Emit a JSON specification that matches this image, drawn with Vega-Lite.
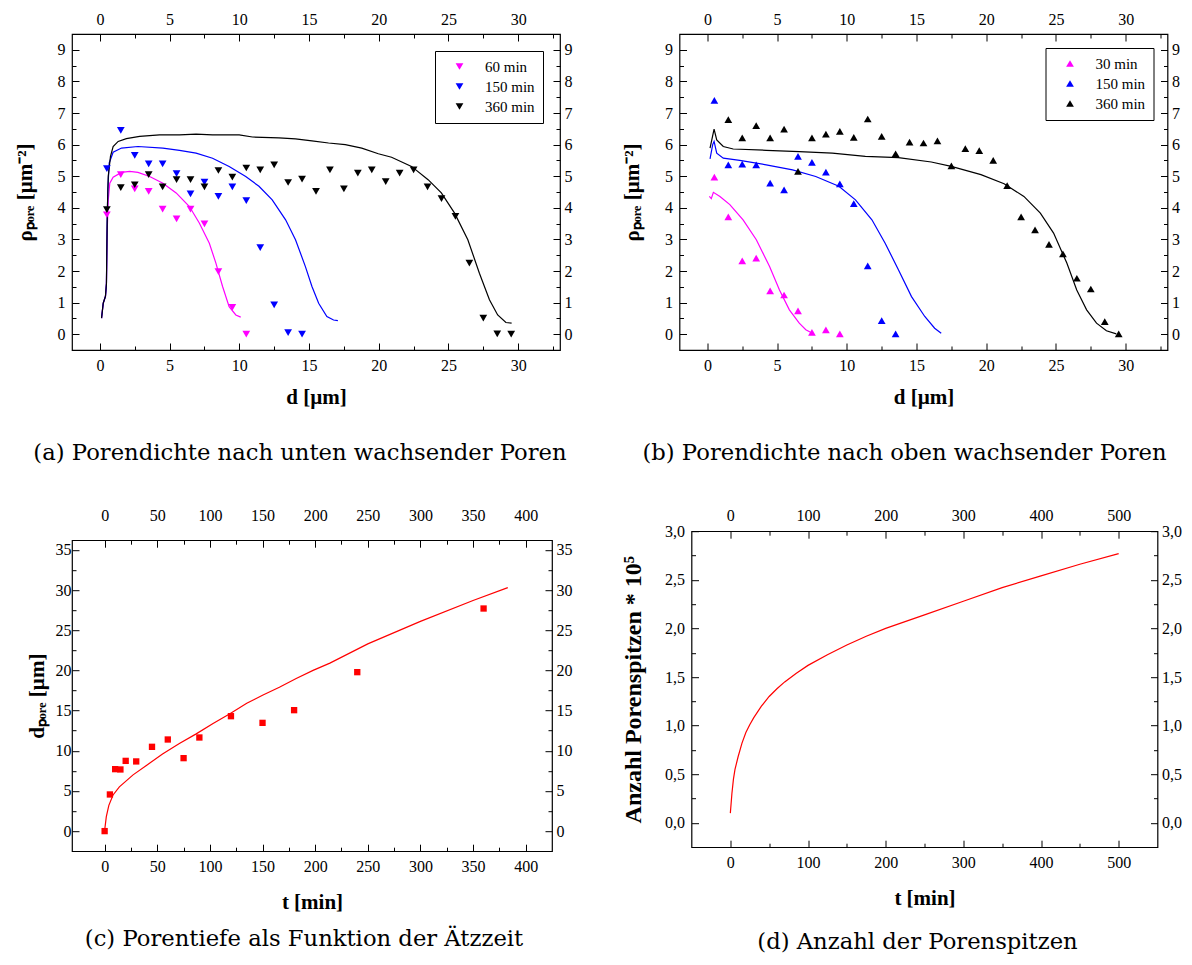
{
  "$schema": "https://vega.github.io/schema/vega-lite/v6.json",
  "background": "white",
  "padding": {"left": 13, "top": 7, "right": 5, "bottom": 5},
  "config": {
    "view": {"stroke": "black", "strokeWidth": 1.2},
    "axis": {"domain": false, "grid": false, "tickColor": "black", "tickWidth": 1, "labelColor": "black", "labelFont": "Liberation Serif", "labelFontSize": 16, "labelFlush": false, "labelOverlap": false, "labelBound": false, "titleFont": "Liberation Serif", "titleFontSize": 21, "titleFontWeight": "bold", "titleColor": "black"}
  },
  "datasets": {
    "a_lines": [
      {"s":"60 min","d":0.12,"r":0.51},{"s":"60 min","d":0.24,"r":0.98},{"s":"60 min","d":0.4,"r":1.2},{"s":"60 min","d":0.47,"r":1.6},{"s":"60 min","d":0.52,"r":3.2},{"s":"60 min","d":0.6,"r":4.25},{"s":"60 min","d":0.71,"r":4.78},{"s":"60 min","d":0.95,"r":4.97},{"s":"60 min","d":1.55,"r":5.12},{"s":"60 min","d":2.14,"r":5.15},{"s":"60 min","d":2.73,"r":5.12},{"s":"60 min","d":3.57,"r":4.99},{"s":"60 min","d":4.52,"r":4.78},{"s":"60 min","d":5.47,"r":4.47},{"s":"60 min","d":6.42,"r":4.04},{"s":"60 min","d":7.13,"r":3.52},{"s":"60 min","d":7.85,"r":2.88},{"s":"60 min","d":8.32,"r":2.25},{"s":"60 min","d":8.8,"r":1.51},{"s":"60 min","d":9.27,"r":0.87},{"s":"60 min","d":9.75,"r":0.61},{"s":"60 min","d":10.1,"r":0.54},
      {"s":"150 min","d":0.12,"r":0.51},{"s":"150 min","d":0.24,"r":0.98},{"s":"150 min","d":0.4,"r":1.2},{"s":"150 min","d":0.47,"r":1.6},{"s":"150 min","d":0.52,"r":3.5},{"s":"150 min","d":0.57,"r":4.6},{"s":"150 min","d":0.67,"r":5.42},{"s":"150 min","d":0.95,"r":5.76},{"s":"150 min","d":1.55,"r":5.89},{"s":"150 min","d":2.73,"r":5.94},{"s":"150 min","d":4.52,"r":5.89},{"s":"150 min","d":5.71,"r":5.82},{"s":"150 min","d":6.9,"r":5.73},{"s":"150 min","d":8.08,"r":5.57},{"s":"150 min","d":9.27,"r":5.31},{"s":"150 min","d":10.46,"r":4.99},{"s":"150 min","d":11.41,"r":4.68},{"s":"150 min","d":12.36,"r":4.25},{"s":"150 min","d":13.32,"r":3.62},{"s":"150 min","d":14.03,"r":2.99},{"s":"150 min","d":14.74,"r":2.14},{"s":"150 min","d":15.21,"r":1.51},{"s":"150 min","d":15.69,"r":0.98},{"s":"150 min","d":16.28,"r":0.56},{"s":"150 min","d":16.76,"r":0.45},{"s":"150 min","d":17.07,"r":0.43},
      {"s":"360 min","d":0.12,"r":0.51},{"s":"360 min","d":0.24,"r":0.98},{"s":"360 min","d":0.4,"r":1.2},{"s":"360 min","d":0.47,"r":1.6},{"s":"360 min","d":0.53,"r":3.8},{"s":"360 min","d":0.6,"r":5.0},{"s":"360 min","d":0.76,"r":5.63},{"s":"360 min","d":0.95,"r":5.94},{"s":"360 min","d":1.31,"r":6.1},{"s":"360 min","d":1.9,"r":6.19},{"s":"360 min","d":2.85,"r":6.26},{"s":"360 min","d":4.28,"r":6.31},{"s":"360 min","d":5.71,"r":6.31},{"s":"360 min","d":6.9,"r":6.33},{"s":"360 min","d":8.08,"r":6.31},{"s":"360 min","d":9.99,"r":6.31},{"s":"360 min","d":10.94,"r":6.24},{"s":"360 min","d":12.84,"r":6.21},{"s":"360 min","d":14.03,"r":6.18},{"s":"360 min","d":15.21,"r":6.12},{"s":"360 min","d":16.4,"r":6.05},{"s":"360 min","d":17.6,"r":6.0},{"s":"360 min","d":18.78,"r":5.89},{"s":"360 min","d":19.97,"r":5.71},{"s":"360 min","d":20.92,"r":5.6},{"s":"360 min","d":22.35,"r":5.31},{"s":"360 min","d":23.54,"r":4.89},{"s":"360 min","d":24.49,"r":4.47},{"s":"360 min","d":25.44,"r":3.83},{"s":"360 min","d":26.39,"r":2.99},{"s":"360 min","d":27.22,"r":1.93},{"s":"360 min","d":27.94,"r":1.09},{"s":"360 min","d":28.53,"r":0.61},{"s":"360 min","d":29.12,"r":0.37},{"s":"360 min","d":29.53,"r":0.35}
    ],
    "a_pts": [
      {"s":"60 min","d":0.5,"r":3.78},{"s":"60 min","d":1.5,"r":5.05},{"s":"60 min","d":2.5,"r":4.6},{"s":"60 min","d":3.5,"r":4.52},{"s":"60 min","d":4.5,"r":3.96},{"s":"60 min","d":5.5,"r":3.65},{"s":"60 min","d":6.5,"r":3.96},{"s":"60 min","d":7.5,"r":3.49},{"s":"60 min","d":8.5,"r":1.98},{"s":"60 min","d":9.5,"r":0.85},{"s":"60 min","d":10.5,"r":0.0},
      {"s":"150 min","d":0.5,"r":5.24},{"s":"150 min","d":1.5,"r":6.45},{"s":"150 min","d":2.5,"r":5.66},{"s":"150 min","d":3.5,"r":5.39},{"s":"150 min","d":4.5,"r":5.39},{"s":"150 min","d":5.5,"r":5.08},{"s":"150 min","d":6.5,"r":4.44},{"s":"150 min","d":7.5,"r":4.81},{"s":"150 min","d":8.5,"r":4.36},{"s":"150 min","d":9.5,"r":4.66},{"s":"150 min","d":10.5,"r":4.23},{"s":"150 min","d":11.5,"r":2.74},{"s":"150 min","d":12.5,"r":0.93},{"s":"150 min","d":13.5,"r":0.05},{"s":"150 min","d":14.5,"r":0.0},
      {"s":"360 min","d":0.5,"r":3.94},{"s":"360 min","d":1.5,"r":4.64},{"s":"360 min","d":2.5,"r":4.73},{"s":"360 min","d":3.5,"r":5.05},{"s":"360 min","d":4.5,"r":4.66},{"s":"360 min","d":5.5,"r":4.89},{"s":"360 min","d":6.5,"r":4.89},{"s":"360 min","d":7.5,"r":4.66},{"s":"360 min","d":8.5,"r":5.18},{"s":"360 min","d":9.5,"r":4.97},{"s":"360 min","d":10.5,"r":5.26},{"s":"360 min","d":11.5,"r":5.2},{"s":"360 min","d":12.5,"r":5.36},{"s":"360 min","d":13.5,"r":4.8},{"s":"360 min","d":14.5,"r":4.91},{"s":"360 min","d":15.5,"r":4.52},{"s":"360 min","d":16.5,"r":5.2},{"s":"360 min","d":17.5,"r":4.6},{"s":"360 min","d":18.5,"r":5.1},{"s":"360 min","d":19.5,"r":5.2},{"s":"360 min","d":20.5,"r":4.83},{"s":"360 min","d":21.5,"r":5.1},{"s":"360 min","d":22.5,"r":5.2},{"s":"360 min","d":23.5,"r":4.66},{"s":"360 min","d":24.5,"r":4.29},{"s":"360 min","d":25.5,"r":3.73},{"s":"360 min","d":26.5,"r":2.25},{"s":"360 min","d":27.5,"r":0.51},{"s":"360 min","d":28.5,"r":0.01},{"s":"360 min","d":29.5,"r":0.0}
    ],
    "b_lines": [
      {"s":"30 min","d":0.14,"r":4.36},{"s":"30 min","d":0.28,"r":4.29},{"s":"30 min","d":0.43,"r":4.49},{"s":"30 min","d":0.9,"r":4.36},{"s":"30 min","d":1.61,"r":4.1},{"s":"30 min","d":2.56,"r":3.62},{"s":"30 min","d":3.51,"r":2.99},{"s":"30 min","d":4.46,"r":2.14},{"s":"30 min","d":5.17,"r":1.4},{"s":"30 min","d":5.88,"r":0.77},{"s":"30 min","d":6.59,"r":0.35},{"s":"30 min","d":7.06,"r":0.14},{"s":"30 min","d":7.53,"r":0.03},
      {"s":"150 min","d":0.19,"r":5.55},{"s":"150 min","d":0.38,"r":6.0},{"s":"150 min","d":0.48,"r":6.1},{"s":"150 min","d":0.67,"r":5.73},{"s":"150 min","d":1.14,"r":5.57},{"s":"150 min","d":2.32,"r":5.5},{"s":"150 min","d":4.22,"r":5.36},{"s":"150 min","d":6.11,"r":5.2},{"s":"150 min","d":7.77,"r":4.99},{"s":"150 min","d":9.43,"r":4.68},{"s":"150 min","d":10.62,"r":4.25},{"s":"150 min","d":11.8,"r":3.62},{"s":"150 min","d":12.75,"r":2.88},{"s":"150 min","d":13.7,"r":2.04},{"s":"150 min","d":14.64,"r":1.19},{"s":"150 min","d":15.59,"r":0.56},{"s":"150 min","d":16.3,"r":0.19},{"s":"150 min","d":16.77,"r":0.03},
      {"s":"360 min","d":0.19,"r":5.89},{"s":"360 min","d":0.48,"r":6.49},{"s":"360 min","d":0.67,"r":6.15},{"s":"360 min","d":1.14,"r":5.94},{"s":"360 min","d":1.85,"r":5.86},{"s":"360 min","d":4.22,"r":5.82},{"s":"360 min","d":6.59,"r":5.78},{"s":"360 min","d":8.96,"r":5.73},{"s":"360 min","d":11.33,"r":5.63},{"s":"360 min","d":13.7,"r":5.59},{"s":"360 min","d":16.06,"r":5.45},{"s":"360 min","d":17.49,"r":5.31},{"s":"360 min","d":19.62,"r":5.05},{"s":"360 min","d":21.28,"r":4.76},{"s":"360 min","d":22.7,"r":4.36},{"s":"360 min","d":23.88,"r":3.83},{"s":"360 min","d":24.83,"r":3.2},{"s":"360 min","d":25.78,"r":2.25},{"s":"360 min","d":26.49,"r":1.4},{"s":"360 min","d":27.2,"r":0.77},{"s":"360 min","d":27.91,"r":0.35},{"s":"360 min","d":28.62,"r":0.11},{"s":"360 min","d":29.33,"r":0.01}
    ],
    "b_pts": [
      {"s":"30 min","d":0.5,"r":4.97},{"s":"30 min","d":1.5,"r":3.71},{"s":"30 min","d":2.5,"r":2.32},{"s":"30 min","d":3.5,"r":2.41},{"s":"30 min","d":4.5,"r":1.37},{"s":"30 min","d":5.5,"r":1.24},{"s":"30 min","d":6.5,"r":0.74},{"s":"30 min","d":7.5,"r":0.06},{"s":"30 min","d":8.5,"r":0.14},{"s":"30 min","d":9.5,"r":0.01},
      {"s":"150 min","d":0.5,"r":7.4},{"s":"150 min","d":1.5,"r":5.36},{"s":"150 min","d":2.5,"r":5.38},{"s":"150 min","d":3.5,"r":5.36},{"s":"150 min","d":4.5,"r":4.78},{"s":"150 min","d":5.5,"r":4.57},{"s":"150 min","d":6.5,"r":5.63},{"s":"150 min","d":7.5,"r":5.44},{"s":"150 min","d":8.5,"r":5.13},{"s":"150 min","d":9.5,"r":4.76},{"s":"150 min","d":10.5,"r":4.13},{"s":"150 min","d":11.5,"r":2.16},{"s":"150 min","d":12.5,"r":0.43},{"s":"150 min","d":13.5,"r":0.01},
      {"s":"360 min","d":1.5,"r":6.79},{"s":"360 min","d":2.5,"r":6.21},{"s":"360 min","d":3.5,"r":6.6},{"s":"360 min","d":4.5,"r":6.21},{"s":"360 min","d":5.5,"r":6.49},{"s":"360 min","d":6.5,"r":5.15},{"s":"360 min","d":7.5,"r":6.21},{"s":"360 min","d":8.5,"r":6.33},{"s":"360 min","d":9.5,"r":6.42},{"s":"360 min","d":10.5,"r":6.23},{"s":"360 min","d":11.5,"r":6.81},{"s":"360 min","d":12.5,"r":6.26},{"s":"360 min","d":13.5,"r":5.71},{"s":"360 min","d":14.5,"r":6.08},{"s":"360 min","d":15.5,"r":6.05},{"s":"360 min","d":16.5,"r":6.12},{"s":"360 min","d":17.5,"r":5.33},{"s":"360 min","d":18.5,"r":5.87},{"s":"360 min","d":19.5,"r":5.81},{"s":"360 min","d":20.5,"r":5.5},{"s":"360 min","d":21.5,"r":4.7},{"s":"360 min","d":22.5,"r":3.71},{"s":"360 min","d":23.5,"r":3.3},{"s":"360 min","d":24.5,"r":2.84},{"s":"360 min","d":25.5,"r":2.54},{"s":"360 min","d":26.5,"r":1.77},{"s":"360 min","d":27.5,"r":1.43},{"s":"360 min","d":28.5,"r":0.4},{"s":"360 min","d":29.5,"r":0.01}
    ],
    "c_line": [
      {"t":0,"d":0.1},{"t":1.6,"d":1.8},{"t":4,"d":3.2},{"t":8,"d":4.5},{"t":14,"d":5.5},{"t":27,"d":7.0},{"t":40,"d":8.2},{"t":55,"d":9.6},{"t":71,"d":10.9},{"t":87,"d":12.1},{"t":103,"d":13.4},{"t":119,"d":14.6},{"t":135,"d":15.9},{"t":150,"d":16.9},{"t":166,"d":17.9},{"t":182,"d":19.0},{"t":198,"d":20.0},{"t":214,"d":20.9},{"t":250,"d":23.3},{"t":300,"d":26.1},{"t":350,"d":28.7},{"t":383,"d":30.3}
    ],
    "c_pts": [
      {"t":0,"d":0},{"t":5,"d":4.56},{"t":10,"d":7.71},{"t":15,"d":7.67},{"t":20,"d":8.74},{"t":30,"d":8.67},{"t":45,"d":10.49},{"t":60,"d":11.4},{"t":75,"d":9.08},{"t":90,"d":11.65},{"t":120,"d":14.3},{"t":150,"d":13.47},{"t":180,"d":15.05},{"t":240,"d":19.78},{"t":360,"d":27.7}
    ],
    "d_line": [
      {"t":0,"n":0.1},{"t":1,"n":0.2},{"t":2,"n":0.3},{"t":4,"n":0.45},{"t":6,"n":0.55},{"t":10,"n":0.68},{"t":15,"n":0.82},{"t":20,"n":0.93},{"t":25,"n":1.01},{"t":30,"n":1.08},{"t":40,"n":1.2},{"t":50,"n":1.3},{"t":60,"n":1.38},{"t":70,"n":1.45},{"t":85,"n":1.54},{"t":100,"n":1.62},{"t":125,"n":1.73},{"t":150,"n":1.83},{"t":175,"n":1.92},{"t":200,"n":2.0},{"t":250,"n":2.14},{"t":300,"n":2.28},{"t":350,"n":2.42},{"t":400,"n":2.54},{"t":450,"n":2.66},{"t":500,"n":2.77}
    ]
  },
  "concat": [
    {
      "width": 488, "height": 316,
      "title": {"text": "(a) Porendichte nach unten wachsender Poren", "orient": "bottom", "frame": "group", "anchor": "middle", "offset": 35, "dx": -16, "baseline": "top", "font": "DejaVu Serif", "fontSize": 22.7, "fontWeight": "normal", "color": "black"},
      "layer": [
        {
          "data": {"name": "a_lines"},
          "mark": {"type": "line", "strokeWidth": 1.2},
          "encoding": {
            "x": {"field": "d", "type": "quantitative", "scale": {"domain": [-2, 33], "nice": false, "zero": false},
              "axis": {"orient": "bottom", "values": [0,2.5,5,7.5,10,12.5,15,17.5,20,22.5,25,27.5,30,32.5], "labelExpr": "datum.value % 5 === 0 ? format(datum.value, 'd') : ''", "tickSize": {"condition": {"test": "datum.value % 5 === 0", "value": -7}, "value": -4}, "labelPadding": 14, "title": "d  [µm]", "titlePadding": 10}},
            "y": {"field": "r", "type": "quantitative", "scale": {"domain": [-0.5, 9.5], "nice": false, "zero": false},
              "axis": {"orient": "left", "values": [0,0.5,1,1.5,2,2.5,3,3.5,4,4.5,5,5.5,6,6.5,7,7.5,8,8.5,9], "labelExpr": "datum.value % 1 === 0 ? format(datum.value, 'd') : ''", "tickSize": {"condition": {"test": "datum.value % 1 === 0", "value": -7}, "value": -4}, "labelPadding": 14, "title": "ρₚₒᵣₑ  [µm⁻²]", "titlePadding": 22}},
            "stroke": {"field": "s", "type": "nominal", "scale": {"domain": ["360 min", "150 min", "60 min"], "range": ["#000000", "#0000ff", "#ff00ff"]}, "legend": null}
          }
        },
        {
          "data": {"name": "a_pts"},
          "mark": {"type": "point", "shape": "triangle-down", "filled": true, "size": 60, "opacity": 1},
          "encoding": {
            "x": {"field": "d", "type": "quantitative", "scale": {"domain": [-2, 33], "nice": false, "zero": false},
              "axis": {"orient": "top", "values": [0,2.5,5,7.5,10,12.5,15,17.5,20,22.5,25,27.5,30,32.5], "labelExpr": "datum.value % 5 === 0 ? format(datum.value, 'd') : ''", "tickSize": {"condition": {"test": "datum.value % 5 === 0", "value": -7}, "value": -4}, "labelPadding": 14, "title": null}},
            "y": {"field": "r", "type": "quantitative", "scale": {"domain": [-0.5, 9.5], "nice": false, "zero": false},
              "axis": {"orient": "right", "values": [0,0.5,1,1.5,2,2.5,3,3.5,4,4.5,5,5.5,6,6.5,7,7.5,8,8.5,9], "labelExpr": "datum.value % 1 === 0 ? format(datum.value, 'd') : ''", "tickSize": {"condition": {"test": "datum.value % 1 === 0", "value": -7}, "value": -4}, "labelPadding": 11, "title": null}},
            "color": {"field": "s", "type": "nominal", "scale": {"domain": ["60 min", "150 min", "360 min"], "range": ["#ff00ff", "#0000ff", "#000000"]},
              "legend": {"orient": "top-right", "offset": 17, "title": null, "symbolType": "triangle-down", "symbolSize": 60, "symbolOffset": 9, "labelOffset": 18, "padding": 8, "rowPadding": 4, "strokeColor": "black", "fillColor": "white", "labelFont": "Liberation Serif", "labelFontSize": 15, "labelColor": "black"}}
          }
        }
      ],
      "resolve": {"axis": {"x": "independent", "y": "independent"}}
    },
    {
      "width": 488, "height": 316,
      "title": {"text": "(b) Porendichte nach oben wachsender Poren", "orient": "bottom", "frame": "group", "anchor": "middle", "offset": 35, "dx": -19, "baseline": "top", "font": "DejaVu Serif", "fontSize": 22.7, "fontWeight": "normal", "color": "black"},
      "layer": [
        {
          "data": {"name": "b_lines"},
          "mark": {"type": "line", "strokeWidth": 1.2},
          "encoding": {
            "x": {"field": "d", "type": "quantitative", "scale": {"domain": [-2, 33], "nice": false, "zero": false},
              "axis": {"orient": "bottom", "values": [0,2.5,5,7.5,10,12.5,15,17.5,20,22.5,25,27.5,30,32.5], "labelExpr": "datum.value % 5 === 0 ? format(datum.value, 'd') : ''", "tickSize": {"condition": {"test": "datum.value % 5 === 0", "value": -7}, "value": -4}, "labelPadding": 14, "title": "d  [µm]", "titlePadding": 10}},
            "y": {"field": "r", "type": "quantitative", "scale": {"domain": [-0.5, 9.5], "nice": false, "zero": false},
              "axis": {"orient": "left", "values": [0,0.5,1,1.5,2,2.5,3,3.5,4,4.5,5,5.5,6,6.5,7,7.5,8,8.5,9], "labelExpr": "datum.value % 1 === 0 ? format(datum.value, 'd') : ''", "tickSize": {"condition": {"test": "datum.value % 1 === 0", "value": -7}, "value": -4}, "labelPadding": 14, "title": "ρₚₒᵣₑ  [µm⁻²]", "titlePadding": 22}},
            "stroke": {"field": "s", "type": "nominal", "scale": {"domain": ["360 min", "150 min", "30 min"], "range": ["#000000", "#0000ff", "#ff00ff"]}, "legend": null}
          }
        },
        {
          "data": {"name": "b_pts"},
          "mark": {"type": "point", "shape": "triangle-up", "filled": true, "size": 60, "opacity": 1},
          "encoding": {
            "x": {"field": "d", "type": "quantitative", "scale": {"domain": [-2, 33], "nice": false, "zero": false},
              "axis": {"orient": "top", "values": [0,2.5,5,7.5,10,12.5,15,17.5,20,22.5,25,27.5,30,32.5], "labelExpr": "datum.value % 5 === 0 ? format(datum.value, 'd') : ''", "tickSize": {"condition": {"test": "datum.value % 5 === 0", "value": -7}, "value": -4}, "labelPadding": 14, "title": null}},
            "y": {"field": "r", "type": "quantitative", "scale": {"domain": [-0.5, 9.5], "nice": false, "zero": false},
              "axis": {"orient": "right", "values": [0,0.5,1,1.5,2,2.5,3,3.5,4,4.5,5,5.5,6,6.5,7,7.5,8,8.5,9], "labelExpr": "datum.value % 1 === 0 ? format(datum.value, 'd') : ''", "tickSize": {"condition": {"test": "datum.value % 1 === 0", "value": -7}, "value": -4}, "labelPadding": 11, "title": null}},
            "color": {"field": "s", "type": "nominal", "scale": {"domain": ["30 min", "150 min", "360 min"], "range": ["#ff00ff", "#0000ff", "#000000"]},
              "legend": {"orient": "top-right", "offset": 14, "title": null, "symbolType": "triangle-up", "symbolSize": 60, "symbolOffset": 9, "labelOffset": 18, "padding": 8, "rowPadding": 4, "strokeColor": "black", "fillColor": "white", "labelFont": "Liberation Serif", "labelFontSize": 15, "labelColor": "black"}}
          }
        }
      ],
      "resolve": {"axis": {"x": "independent", "y": "independent"}}
    },
    {
      "width": 480, "height": 311,
      "title": {"text": "(c) Porentiefe als Funktion der Ätzzeit", "orient": "bottom", "frame": "group", "anchor": "middle", "offset": 16, "dx": -8, "baseline": "top", "font": "DejaVu Serif", "fontSize": 22.7, "fontWeight": "normal", "color": "black"},
      "layer": [
        {
          "data": {"name": "c_line"},
          "mark": {"type": "line", "strokeWidth": 1.2, "color": "#ff0000"},
          "encoding": {
            "x": {"field": "t", "type": "quantitative", "scale": {"domain": [-31, 425], "nice": false, "zero": false},
              "axis": {"orient": "bottom", "values": [0,25,50,75,100,125,150,175,200,225,250,275,300,325,350,375,400], "labelExpr": "datum.value % 50 === 0 ? format(datum.value, 'd') : ''", "tickSize": {"condition": {"test": "datum.value % 50 === 0", "value": -7}, "value": -4}, "labelPadding": 14, "title": "t  [min]", "titlePadding": 14}},
            "y": {"field": "d", "type": "quantitative", "scale": {"domain": [-2.5, 36.2], "nice": false, "zero": false},
              "axis": {"orient": "left", "values": [0,2.5,5,7.5,10,12.5,15,17.5,20,22.5,25,27.5,30,32.5,35], "labelExpr": "datum.value % 5 === 0 ? format(datum.value, 'd') : ''", "tickSize": {"condition": {"test": "datum.value % 5 === 0", "value": -7}, "value": -4}, "labelPadding": 8, "title": "dₚₒᵣₑ  [µm]", "titlePadding": 8}}
          }
        },
        {
          "data": {"name": "c_pts"},
          "mark": {"type": "square", "filled": true, "size": 40, "color": "#ff0000", "opacity": 1},
          "encoding": {
            "x": {"field": "t", "type": "quantitative", "scale": {"domain": [-31, 425], "nice": false, "zero": false},
              "axis": {"orient": "top", "values": [0,25,50,75,100,125,150,175,200,225,250,275,300,325,350,375,400], "labelExpr": "datum.value % 50 === 0 ? format(datum.value, 'd') : ''", "tickSize": {"condition": {"test": "datum.value % 50 === 0", "value": -7}, "value": -4}, "labelPadding": 23.8, "title": null}},
            "y": {"field": "d", "type": "quantitative", "scale": {"domain": [-2.5, 36.2], "nice": false, "zero": false},
              "axis": {"orient": "right", "values": [0,2.5,5,7.5,10,12.5,15,17.5,20,22.5,25,27.5,30,32.5,35], "labelExpr": "datum.value % 5 === 0 ? format(datum.value, 'd') : ''", "tickSize": {"condition": {"test": "datum.value % 5 === 0", "value": -7}, "value": -4}, "labelPadding": 11, "title": null}}
          }
        }
      ],
      "resolve": {"axis": {"x": "independent", "y": "independent"}}
    },
    {
      "width": 466, "height": 316,
      "title": {"text": "(d) Anzahl der Porenspitzen", "orient": "bottom", "frame": "group", "anchor": "middle", "offset": 22, "dx": -7, "baseline": "top", "font": "DejaVu Serif", "fontSize": 22.7, "fontWeight": "normal", "color": "black"},
      "layer": [
        {
          "data": {"name": "d_line"},
          "mark": {"type": "line", "strokeWidth": 1.2, "color": "#ff0000"},
          "encoding": {
            "x": {"field": "t", "type": "quantitative", "scale": {"domain": [-50, 550], "nice": false, "zero": false},
              "axis": {"orient": "bottom", "values": [0,50,100,150,200,250,300,350,400,450,500], "labelExpr": "datum.value % 100 === 0 ? format(datum.value, 'd') : ''", "tickSize": {"condition": {"test": "datum.value % 100 === 0", "value": -7}, "value": -4}, "labelPadding": 14, "title": "t  [min]", "titlePadding": 14.5}},
            "y": {"field": "n", "type": "quantitative", "scale": {"domain": [-0.25, 3.0], "nice": false, "zero": false},
              "axis": {"orient": "left", "values": [0,0.25,0.5,0.75,1,1.25,1.5,1.75,2,2.25,2.5,2.75,3], "labelExpr": "datum.value * 2 === round(datum.value * 2) ? replace(format(datum.value, '.1f'), '.', ',') : ''", "tickSize": {"condition": {"test": "datum.value * 2 === round(datum.value * 2)", "value": -7}, "value": -4}, "labelPadding": 14, "title": "Anzahl Porenspitzen * 10⁵", "titleFontSize": 24, "titlePadding": 18.8}}
          }
        },
        {
          "data": {"name": "d_line"},
          "mark": {"type": "point", "opacity": 0},
          "encoding": {
            "x": {"field": "t", "type": "quantitative", "scale": {"domain": [-50, 550], "nice": false, "zero": false},
              "axis": {"orient": "top", "values": [0,50,100,150,200,250,300,350,400,450,500], "labelExpr": "datum.value % 100 === 0 ? format(datum.value, 'd') : ''", "tickSize": {"condition": {"test": "datum.value % 100 === 0", "value": -7}, "value": -4}, "labelPadding": 15, "title": null}},
            "y": {"field": "n", "type": "quantitative", "scale": {"domain": [-0.25, 3.0], "nice": false, "zero": false},
              "axis": {"orient": "right", "values": [0,0.25,0.5,0.75,1,1.25,1.5,1.75,2,2.25,2.5,2.75,3], "labelExpr": "datum.value * 2 === round(datum.value * 2) ? replace(format(datum.value, '.1f'), '.', ',') : ''", "tickSize": {"condition": {"test": "datum.value * 2 === round(datum.value * 2)", "value": -7}, "value": -4}, "labelPadding": 11, "title": null}}
          }
        }
      ],
      "resolve": {"axis": {"x": "independent", "y": "independent"}}
    }
  ],
  "columns": 2,
  "align": "none",
  "spacing": {"row": 37.2, "column": 47.5},
  "resolve": {"scale": {"color": "independent", "stroke": "independent"}, "legend": {"color": "independent", "stroke": "independent"}}
}
